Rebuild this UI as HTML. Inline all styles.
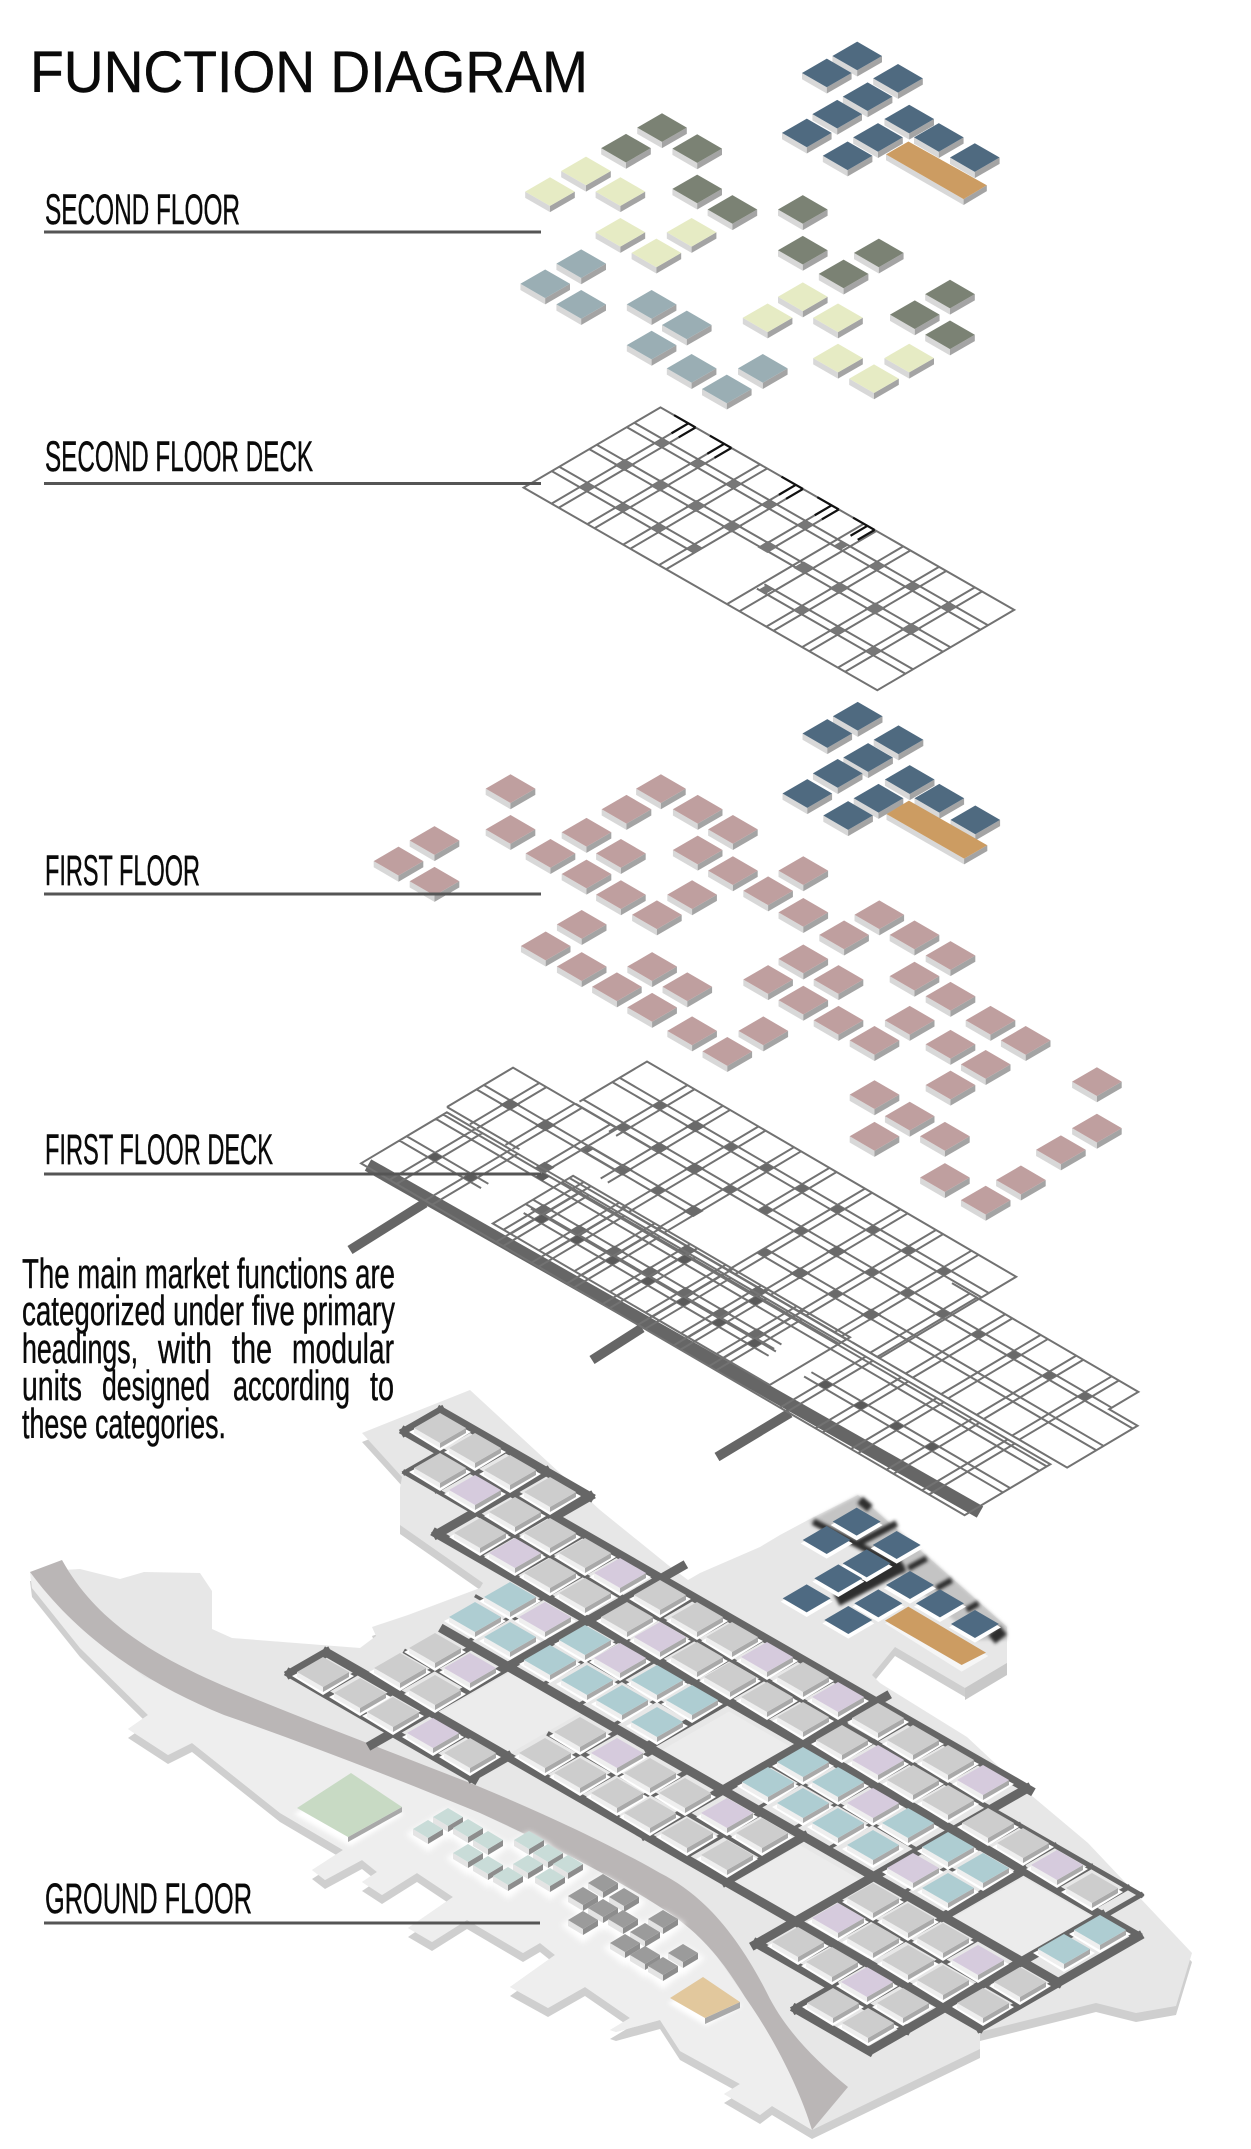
<!DOCTYPE html>
<html><head><meta charset="utf-8"><title>Function Diagram</title>
<style>html,body{margin:0;padding:0;background:#fff}svg{display:block}
text{font-family:"Liberation Sans",sans-serif;fill:#0a0a0a;stroke:#0a0a0a;stroke-width:.45}
.l{stroke:#727272;stroke-width:2;fill:none;vector-effect:non-scaling-stroke}
.b{fill:none;stroke:#666;vector-effect:non-scaling-stroke;stroke-linecap:square}
</style></head><body>
<svg xmlns="http://www.w3.org/2000/svg" width="1251" height="2149" viewBox="0 0 1251 2149">
<defs>
<filter id="bl" x="-40%" y="-40%" width="180%" height="180%"><feGaussianBlur stdDeviation="2.2"/></filter>
<filter id="bh" x="-40%" y="-40%" width="180%" height="180%"><feGaussianBlur stdDeviation="3"/></filter>
<filter id="bz" x="-30%" y="-30%" width="160%" height="160%"><feGaussianBlur stdDeviation="5"/></filter>
<g id="a"><path fill="#d8d8d8" d="M-31 0L0 32V46L-31 14Z"/><path fill="#a4a4a4" d="M31 0L0 32V46L31 14Z"/><path d="M-31 0L0-32L31 0L0 32Z"/></g>
<g id="c"><path fill="#d8d8d8" d="M-31 0L0 30V43L-31 13Z"/><path fill="#a4a4a4" d="M31 0L0 30V43L31 13Z"/><path d="M-31 0L0-30L31 0L0 30Z"/></g>
<g id="t"><path fill="#fff" d="M-31 4L0-12L31 4L0 23Z"/><path fill="#efefef" d="M-26 0L0 15V20L-26 5Z"/><path fill="#a9a9a9" d="M26 0L0 15V20L26 5Z"/><path d="M-26 0L0-15L26 0L0 15Z"/></g>
<g id="m"><path fill="#e4e4e4" d="M-15 0L0 9V15L-15 6Z"/><path fill="#8d8d8d" d="M15 0L0 9V15L15 6Z"/><path d="M-15 0L0-9L15 0L0 9Z"/></g>
<path id="h" d="M-22 5L0-8L22 5L0 23Z"/>
<g id="q"><path fill="#fff" d="M-78 10L0-34L78 10L0 56Z"/><path d="M-72 0L0-42L72 0L0 42Z"/></g>
<path id="n" d="M-.1-.1H.1V.1H-.1Z"/>
<path id="N" d="M-.14-.14H.14V.14H-.14Z"/>
</defs>
<rect width="1251" height="2149" fill="#fff"/>

<text x="30" y="92" font-size="58" textLength="558" lengthAdjust="spacingAndGlyphs">FUNCTION DIAGRAM</text>
<text x="45" y="224" font-size="43" textLength="195" lengthAdjust="spacingAndGlyphs">SECOND FLOOR</text>
<text x="45" y="471" font-size="43" textLength="268" lengthAdjust="spacingAndGlyphs">SECOND FLOOR DECK</text>

<!-- SECOND FLOOR TILES -->
<g transform="translate(-2,0) scale(.8,.4476)">
<g fill="#4f6a80">
<use href="#a" x="1074" y="125"/><use href="#a" x="1036" y="163"/><use href="#a" x="1125" y="175"/><use href="#a" x="1087" y="216"/><use href="#a" x="1049" y="255"/><use href="#a" x="1011" y="297"/><use href="#a" x="1139" y="266"/><use href="#a" x="1100" y="307"/><use href="#a" x="1176" y="307"/><use href="#a" x="1062" y="348"/><use href="#a" x="1221" y="352"/>
</g>
<path fill="#d8d8d8" d="M1110 345L1207 445V458L1110 358Z"/><path fill="#a4a4a4" d="M1236 414L1207 445V458L1236 427Z"/><path fill="#cc9c62" d="M1138 316L1236 414L1207 445L1110 345Z"/>
<g fill="#7b8274">
<use href="#a" x="830" y="285"/><use href="#a" x="785" y="331"/><use href="#a" x="874" y="332"/><use href="#a" x="874" y="422"/><use href="#a" x="918" y="468"/><use href="#a" x="1006" y="468"/><use href="#a" x="1006" y="559"/><use href="#a" x="1101" y="565"/><use href="#a" x="1057" y="612"/><use href="#a" x="1190" y="657"/><use href="#a" x="1146" y="703"/><use href="#a" x="1190" y="748"/>
</g>
<g fill="#e6ebc4">
<use href="#a" x="735" y="382"/><use href="#a" x="690" y="428"/><use href="#a" x="778" y="428"/><use href="#a" x="778" y="519"/><use href="#a" x="867" y="519"/><use href="#a" x="823" y="565"/><use href="#a" x="1006" y="663"/><use href="#a" x="962" y="710"/><use href="#a" x="1050" y="710"/><use href="#a" x="1050" y="800"/><use href="#a" x="1139" y="800"/><use href="#a" x="1095" y="846"/>
</g>
<g fill="#9aaeb4">
<use href="#a" x="729" y="589"/><use href="#a" x="684" y="634"/><use href="#a" x="729" y="680"/><use href="#a" x="817" y="680"/><use href="#a" x="861" y="726"/><use href="#a" x="817" y="771"/><use href="#a" x="867" y="823"/><use href="#a" x="956" y="823"/><use href="#a" x="911" y="869"/>
</g>
</g>

<!-- SECOND FLOOR DECK -->
<g transform="matrix(35.8 20.5 37.5 -22 587 487)">
<path class="l" d="M-.88-.85H9V2.8H-.88ZM-.88-.1H3.1M-.88.1H3.1M4.85-.1H9M4.85.1H9M-.88.9H9M-.88 1.1H9M-.88 1.9H9M-.88 2.1H9M-.1-.85V2.8M.1-.85V2.8M.9-.85V2.8M1.1-.85V2.8M1.9-.85V2.8M2.1-.85V2.8M2.9-.85V2.8M3.1-.85V2.8M3.9.9V2.8M4.1.9V2.8M4.8-.85V2.8M5.15-.85V2.8M5.9-.85V2.8M6.1-.85V2.8M6.9-.85V2.8M7.1-.85V2.8M7.9-.85V2.8M8.1-.85V2.8"/>
<path d="M-.1 2.35V2.8M.1 2.35V2.8M.9 2.35V2.8M1.1 2.35V2.8M2.9 2.35V2.8M3.1 2.35V2.8M3.9 2.35V2.8M4.1 2.35V2.8M4.9 2.35V2.8M5.1 2.35V2.8M-.5 2.8H.1M.5 2.8H1.1M2.5 2.8H3.1M3.5 2.8H4.1M4.5 2.8H5.1" stroke="#111" stroke-width="2.2" fill="none" vector-effect="non-scaling-stroke"/>
<g fill="#777">
<use href="#n" x="0" y="0"/><use href="#N" x="0" y="1"/><use href="#n" x="0" y="2"/><use href="#n" x="1" y="0"/><use href="#N" x="1" y="1"/><use href="#n" x="1" y="2"/><use href="#n" x="2" y="0"/><use href="#N" x="2" y="1"/><use href="#n" x="2" y="2"/><use href="#n" x="3" y="0"/><use href="#N" x="3" y="1"/><use href="#n" x="3" y="2"/><use href="#N" x="4" y="1"/><use href="#n" x="4" y="2"/><use href="#n" x="5" y="0"/><use href="#N" x="5" y="1"/><use href="#n" x="5" y="2"/><use href="#n" x="6" y="0"/><use href="#N" x="6" y="1"/><use href="#n" x="6" y="2"/><use href="#n" x="7" y="0"/><use href="#N" x="7" y="1"/><use href="#n" x="7" y="2"/><use href="#n" x="8" y="0"/><use href="#N" x="8" y="1"/><use href="#n" x="8" y="2"/>
</g>
</g>

<!-- FIRST FLOOR TILES -->
<g transform="translate(-1.5,699) scale(.8,.4795)">
<g fill="#4f6a80">
<use href="#c" x="1074" y="36"/><use href="#c" x="1036" y="72"/><use href="#c" x="1125" y="85"/><use href="#c" x="1087" y="122"/><use href="#c" x="1049" y="155"/><use href="#c" x="1011" y="197"/><use href="#c" x="1139" y="168"/><use href="#c" x="1100" y="207"/><use href="#c" x="1176" y="207"/><use href="#c" x="1062" y="243"/><use href="#c" x="1221" y="252"/>
</g>
<path fill="#d8d8d8" d="M1110 240L1207 333V345L1110 252Z"/><path fill="#a4a4a4" d="M1236 305L1207 333V345L1236 317Z"/><path fill="#cc9c62" d="M1138 212L1236 305L1207 333L1110 240Z"/>
<g fill="#bf9f9f">
<use href="#c" x="640" y="187"/><use href="#c" x="828" y="187"/><use href="#c" x="785" y="230"/><use href="#c" x="874" y="230"/><use href="#c" x="918" y="272"/><use href="#c" x="640" y="272"/><use href="#c" x="735" y="278"/><use href="#c" x="690" y="322"/><use href="#c" x="778" y="322"/><use href="#c" x="874" y="315"/><use href="#c" x="545" y="295"/><use href="#c" x="500" y="338"/><use href="#c" x="735" y="365"/><use href="#c" x="545" y="380"/><use href="#c" x="918" y="358"/><use href="#c" x="1006" y="358"/><use href="#c" x="778" y="408"/><use href="#c" x="867" y="408"/><use href="#c" x="962" y="400"/><use href="#c" x="823" y="450"/><use href="#c" x="1006" y="445"/><use href="#c" x="1101" y="450"/><use href="#c" x="729" y="470"/><use href="#c" x="1057" y="492"/><use href="#c" x="1145" y="492"/><use href="#c" x="684" y="515"/><use href="#c" x="1190" y="535"/><use href="#c" x="1006" y="542"/><use href="#c" x="729" y="558"/><use href="#c" x="817" y="558"/><use href="#c" x="962" y="585"/><use href="#c" x="1050" y="585"/><use href="#c" x="1145" y="578"/><use href="#c" x="773" y="600"/><use href="#c" x="861" y="600"/><use href="#c" x="1006" y="628"/><use href="#c" x="1190" y="620"/><use href="#c" x="817" y="643"/><use href="#c" x="1050" y="670"/><use href="#c" x="1139" y="670"/><use href="#c" x="1240" y="670"/><use href="#c" x="867" y="692"/><use href="#c" x="956" y="692"/><use href="#c" x="1095" y="712"/><use href="#c" x="1190" y="720"/><use href="#c" x="1284" y="712"/><use href="#c" x="911" y="735"/><use href="#c" x="1234" y="762"/><use href="#c" x="1190" y="805"/><use href="#c" x="1373" y="798"/><use href="#c" x="1095" y="825"/><use href="#c" x="1139" y="870"/><use href="#c" x="1095" y="912"/><use href="#c" x="1183" y="912"/><use href="#c" x="1373" y="895"/><use href="#c" x="1328" y="940"/><use href="#c" x="1183" y="998"/><use href="#c" x="1278" y="1003"/><use href="#c" x="1234" y="1045"/>
</g>
</g>

<!-- FIRST FLOOR DECK -->
<g stroke="#666" fill="none">
<path d="M368 1165L980 1512" stroke-width="13"/>
<path d="M425 1203L350 1250M642 1328L592 1360M790 1413L717 1457" stroke-width="9.5"/>
</g>
<g transform="matrix(35.5 20.7 36.5 -21.7 587 1149)">
<path class="l" d="M-1.24 1V2.85H9.16V-.9H1.9M-1.24.9H9.16M-1.24 1.1H9.16M-1.24 1.9H9.16M-1.24 2.1H9.16M0-.1H3.1M0 .1H3.1M4.9-.1H9.16M4.9.1H9.16M-.1.7V2.85M.1.7V2.85M.9-.5V2.85M1.1-.5V2.85M1.9-.9V2.85M2.1-.9V2.85M2.9-.9V2.85M3.1-.9V2.85M3.9.9V2.85M4.1.9V2.85M4.9-.9V2.85M5.1-.9V2.85M5.9-.9V2.85M6.1-.9V2.85M6.9-.9V2.85M7.1-.9V2.85M7.9-.9V2.85M8.1-.9V2.85"/>
<path class="l" d="M8.4 1.83H13.65V1.03H14.45V-.9H8.4M8.4.9H14.45M8.4 1.1H13.65M9-.1H14.45M9 .1H14.45M8.9-.9V1.83M9.1-.9V1.83M9.9-.9V1.83M10.1-.9V1.83M10.9-.9V1.83M11.1-.9V1.83M11.9-.9V1.83M12.1-.9V1.83M12.9-.9V1.83M13.1-.9V1.83"/>
<g fill="#6a6a6a">
<use href="#n" x="0" y="0"/><use href="#n" x="0" y="1"/><use href="#n" x="0" y="2"/><use href="#N" x="1" y="0"/><use href="#N" x="1" y="1"/><use href="#N" x="1" y="2"/><use href="#n" x="2" y="0"/><use href="#N" x="2" y="1"/><use href="#n" x="2" y="2"/><use href="#N" x="3" y="0"/><use href="#n" x="3" y="1"/><use href="#n" x="3" y="2"/><use href="#n" x="4" y="1"/><use href="#n" x="4" y="2"/><use href="#n" x="5" y="0"/><use href="#n" x="5" y="1"/><use href="#n" x="5" y="2"/><use href="#N" x="6" y="0"/><use href="#N" x="6" y="1"/><use href="#n" x="6" y="2"/><use href="#n" x="7" y="0"/><use href="#n" x="7" y="1"/><use href="#n" x="7" y="2"/><use href="#N" x="8" y="0"/><use href="#n" x="8" y="1"/><use href="#n" x="8" y="2"/><use href="#n" x="9" y="1"/><use href="#n" x="10" y="1"/><use href="#n" x="11" y="1"/><use href="#n" x="12" y="1"/><use href="#n" x="13" y="1"/>
</g>
</g>
<g transform="matrix(35.5 20.7 36.5 -21.7 437 1148)">
<path class="l" d="M-.84 1.09V2.9H3.2M-.84 1.9H3.2M-.84 2.1H3.2M-.84 1.09H1.2M-.1 1V2.9M.1 1V2.9M.9 1V2.9M1.1 1V2.9M1.9 1V2.9M2.1 1V2.9"/>
<path class="l" d="M2.6-1H10.4V1.2H2.6ZM2.6-.1H9.6M2.6.1H9.6M2.6.9H10.4M2.6 1.1H10.4M2.9-1V1.2M3.1-1V1.2M3.9-1V1.2M4.1-1V1.2M4.9-1V1.2M5.1-1V1.2M5.9-1V1.2M6.1-1V1.2M6.9-1V1.2M7.1-1V1.2M7.9-1V1.2M8.1-1V1.2M8.9-1V1.2M9.1-1V1.2"/>
<g fill="#6a6a6a">
<use href="#N" x="0" y="2"/><use href="#N" x="1" y="2"/><use href="#N" x="2" y="1"/><use href="#N" x="3" y="0"/><use href="#N" x="4" y="0"/><use href="#N" x="5" y="0"/><use href="#N" x="6" y="0"/><use href="#N" x="6" y="1"/><use href="#N" x="7" y="0"/><use href="#N" x="8" y="0"/><use href="#N" x="8" y="1"/><use href="#N" x="9" y="0"/>
</g>
</g>
<g transform="matrix(35.5 20.7 36.5 -21.7 435 1157)">
<path class="l" d="M-.9-1.15H16.1V1.2H-.9ZM-.9-.1H1.4M-.9.1H1.4M2.6-.1H9.5M2.6.1H9.5M10.5-.1H16.1M10.5.1H16.1M-.9.9H16.1M-.9 1.1H16.1M-.1-1.15V1.2M.1-1.15V1.2M.9-1.15V1.2M1.1-1.15V1.2M2.9-1.15V1.2M3.1-1.15V1.2M3.9-1.15V1.2M4.1-1.15V1.2M4.9-1.15V1.2M5.1-1.15V1.2M5.9-1.15V1.2M6.1-1.15V1.2M6.9-1.15V1.2M7.1-1.15V1.2M7.9-1.15V1.2M8.1-1.15V1.2M8.9-1.15V1.2M9.1-1.15V1.2M10.9-1.15V1.2M11.1-1.15V1.2M11.9-1.15V1.2M12.1-1.15V1.2M12.9-1.15V1.2M13.1-1.15V1.2M13.9-1.15V1.2M14.1-1.15V1.2M14.9-1.15V1.2M15.1-1.15V1.2"/>
<g fill="#5a5a5a">
<use href="#n" x="0" y="0"/><use href="#n" x="1" y="0"/><use href="#n" x="2" y="1"/><use href="#n" x="3" y="0"/><use href="#n" x="4" y="0"/><use href="#n" x="5" y="0"/><use href="#n" x="6" y="0"/><use href="#n" x="6" y="1"/><use href="#n" x="7" y="0"/><use href="#n" x="8" y="0"/><use href="#n" x="8" y="1"/><use href="#n" x="9" y="0"/><use href="#n" x="11" y="0"/><use href="#n" x="12" y="0"/><use href="#n" x="13" y="0"/><use href="#n" x="14" y="0"/>
</g>
</g>

<text x="45" y="885" font-size="43" textLength="155" lengthAdjust="spacingAndGlyphs">FIRST FLOOR</text>
<text x="45" y="1164" font-size="43" textLength="228" lengthAdjust="spacingAndGlyphs">FIRST FLOOR DECK</text>

<!-- PARAGRAPH -->
<text x="22" y="1288" font-size="42" textLength="373" lengthAdjust="spacingAndGlyphs">The main market functions are</text>
<text x="22" y="1325" font-size="42" textLength="373" lengthAdjust="spacingAndGlyphs">categorized under five primary</text>
<text x="22" y="1363" font-size="42" textLength="116" lengthAdjust="spacingAndGlyphs">headings,</text>
<text x="158" y="1363" font-size="42" textLength="54" lengthAdjust="spacingAndGlyphs">with</text>
<text x="232" y="1363" font-size="42" textLength="40" lengthAdjust="spacingAndGlyphs">the</text>
<text x="292" y="1363" font-size="42" textLength="102" lengthAdjust="spacingAndGlyphs">modular</text>
<text x="22" y="1400" font-size="42" textLength="60" lengthAdjust="spacingAndGlyphs">units</text>
<text x="102" y="1400" font-size="42" textLength="108" lengthAdjust="spacingAndGlyphs">designed</text>
<text x="233" y="1400" font-size="42" textLength="117" lengthAdjust="spacingAndGlyphs">according</text>
<text x="370" y="1400" font-size="42" textLength="24" lengthAdjust="spacingAndGlyphs">to</text>
<text x="22" y="1438" font-size="42" textLength="204" lengthAdjust="spacingAndGlyphs">these categories.</text>

<!-- GROUND BASE -->
<path transform="translate(0,9)" fill="#cfcfcf" d="M362 1433L470 1390L600 1510L668 1565L688 1580L700 1573L760 1547L780 1535L808 1520L858 1495L1007 1627V1663L965 1688L895 1647L872 1675L880 1683L967 1737L1013 1780L1088 1843L1192 1953L1176 2006L1136 2013L1096 2003L980 2032V2049L812 2130L772 2106L760 2115L724 2094L740 2084L680 2051L660 2020L616 2032L610 2030L630 2018L585 1987L548 2008L510 1987L555 1955L540 1943L523 1953L467 1920L432 1942L408 1928L453 1897L417 1873L382 1895L362 1882L377 1872L362 1860L325 1880L312 1870L343 1850L280 1813L192 1743L168 1755L128 1729L148 1715L80 1648L32 1588L30 1572L80 1569L120 1579L144 1572L200 1573L212 1591V1629L232 1638L360 1648L376 1636L372 1627L408 1615L480 1588L483 1583L400 1525V1488L402 1477Z"/>
<path fill="#e7e7e7" d="M362 1433L470 1390L600 1510L668 1565L688 1580L700 1573L760 1547L780 1535L808 1520L858 1495L1007 1627V1663L965 1688L895 1647L872 1675L880 1683L967 1737L1013 1780L1088 1843L1192 1953L1176 2006L1136 2013L1096 2003L980 2032V2049L812 2130L772 2106L760 2115L724 2094L740 2084L680 2051L660 2020L616 2032L610 2030L630 2018L585 1987L548 2008L510 1987L555 1955L540 1943L523 1953L467 1920L432 1942L408 1928L453 1897L417 1873L382 1895L362 1882L377 1872L362 1860L325 1880L312 1870L343 1850L280 1813L192 1743L168 1755L128 1729L148 1715L80 1648L32 1588L30 1572L80 1569L120 1579L144 1572L200 1573L212 1591V1629L232 1638L360 1648L376 1636L372 1627L408 1615L480 1588L483 1583L400 1525V1488L402 1477Z"/>
<path fill="#c8c8c8" d="M1007 1663V1675L965 1700V1688Z"/>
<path fill="#eeeeee" d="M32 1588L80 1648L148 1715L128 1729L168 1755L192 1743L280 1813L343 1850L312 1870L325 1880L362 1860L377 1872L362 1882L382 1895L417 1873L453 1897L408 1928L432 1942L467 1920L523 1953L540 1943L555 1955L510 1987L548 2008L585 1987L630 2018L610 2030L616 2032L660 2020L680 2051L740 2084L724 2094L760 2115L772 2106L812 2130L790 2060L747 2000L717 1957L687 1923L660 1900L480 1813L280 1732L144 1677L72 1620L30 1572Z"/>
<!-- road -->
<path fill="#bab6b6" d="M30 1572L62 1560C98 1625 160 1658 224 1686C310 1722 400 1755 480 1787C550 1816 615 1847 660 1873C700 1893 735 1930 767 1993C785 2030 815 2060 848 2087L812 2130C800 2090 775 2040 747 2000C725 1965 705 1935 660 1907C610 1875 550 1845 480 1813C400 1780 310 1745 224 1715C150 1685 80 1640 30 1572Z"/>

<!-- ground bars & open blocks -->
<g transform="matrix(.871 .5 -.871 .5 0 0)">
<path fill="#ececec" d="M1965 1380H2046V1462H1965ZM2130 1293H2200V1371H2130ZM2304 1386H2377V1460H2304ZM2465 1290H2545V1372H2465Z"/>
<path class="b" stroke-width="9" d="M1664 1158H1835M1664 1199H2381M1784 1283H2588M1885 1375H2590M1840 1465H2590M1840 1507H2051M1664 1158V1199M1785 1158V1283M1835 1158V1199M1958 1175V1531M2205 1188V1465M2378 1199V1511M2458 1283V1375M2548 1283V1465M2550 1465V1550M2590 1283V1465M2118 1283V1375M2298 1375V1465M2048 1465V1507M2466 1507V1552M2378 1509H2550M2466 1552H2550M1840 1465V1507"/>
<path class="b" stroke-width="5" d="M1705 1240H2550M1700 1158V1199M1741 1158V1240M1705 1199V1240M1830 1199V1283M1870 1199V1283M1909 1199V1283M1996 1199V1283M2037 1199V1283M2077 1199V1283M2117 1199V1283M2158 1199V1283M2243 1199V1283M2284 1199V1283M2324 1199V1283M2410 1240V1283M2451 1240V1283M2493 1240V1283M2535 1240V1283M2550 1240V1283M1885 1419H1958M2050 1419H2298M2378 1419H2590M2086 1375V1465M2126 1375V1465M2166 1375V1465M2250 1375V1465M2419 1375V1465M2459 1375V1465M2500 1375V1465M2420 1465V1509M2460 1465V1509M2500 1465V1552M1878 1465V1507M1918 1465V1507M2002 1465V1507M1918 1375V1465"/>
<path class="b" stroke-width="3.5" d="M1870 1323H2115M2210 1323H2450M1910 1283V1375M1996 1283V1375M2037 1283V1375M2077 1283V1375M2243 1283V1375M2284 1283V1375M2324 1283V1375M2411 1283V1375"/>
</g>

<!-- ground tiles -->
<g fill="#cdcdcd">
<use href="#t" x="440" y="1428"/><use href="#t" x="475" y="1448"/><use href="#t" x="440" y="1468"/><use href="#t" x="510" y="1470"/><use href="#t" x="550" y="1492"/><use href="#t" x="515" y="1512"/><use href="#t" x="480" y="1533"/><use href="#t" x="550" y="1533"/><use href="#t" x="585" y="1553"/><use href="#t" x="550" y="1573"/><use href="#t" x="585" y="1593"/><use href="#t" x="660" y="1595"/><use href="#t" x="627" y="1617"/><use href="#t" x="697" y="1617"/><use href="#t" x="732" y="1637"/><use href="#t" x="435" y="1648"/><use href="#t" x="400" y="1668"/><use href="#t" x="697" y="1657"/><use href="#t" x="730" y="1677"/><use href="#t" x="435" y="1690"/><use href="#t" x="360" y="1693"/><use href="#t" x="393" y="1712"/><use href="#t" x="323" y="1672"/><use href="#t" x="470" y="1753"/><use href="#t" x="580" y="1732"/><use href="#t" x="545" y="1753"/><use href="#t" x="580" y="1773"/><use href="#t" x="650" y="1773"/><use href="#t" x="685" y="1793"/><use href="#t" x="617" y="1793"/><use href="#t" x="650" y="1813"/>
<use href="#t" x="803" y="1677"/><use href="#t" x="767" y="1697"/><use href="#t" x="803" y="1717"/><use href="#t" x="878" y="1718"/><use href="#t" x="842" y="1740"/><use href="#t" x="913" y="1740"/><use href="#t" x="948" y="1760"/><use href="#t" x="913" y="1780"/><use href="#t" x="948" y="1800"/><use href="#t" x="988" y="1823"/><use href="#t" x="1023" y="1843"/><use href="#t" x="1092" y="1888"/><use href="#t" x="687" y="1833"/><use href="#t" x="762" y="1833"/><use href="#t" x="727" y="1855"/><use href="#t" x="873" y="1898"/><use href="#t" x="908" y="1918"/><use href="#t" x="873" y="1938"/><use href="#t" x="943" y="1938"/><use href="#t" x="798" y="1942"/><use href="#t" x="908" y="1960"/><use href="#t" x="832" y="1962"/><use href="#t" x="943" y="1980"/><use href="#t" x="1020" y="1982"/><use href="#t" x="833" y="2003"/><use href="#t" x="903" y="2003"/><use href="#t" x="983" y="2003"/><use href="#t" x="868" y="2023"/>
</g>
<g fill="#d6cbdd">
<use href="#t" x="475" y="1490"/><use href="#t" x="515" y="1553"/><use href="#t" x="620" y="1573"/><use href="#t" x="545" y="1617"/><use href="#t" x="660" y="1637"/><use href="#t" x="470" y="1668"/><use href="#t" x="620" y="1658"/><use href="#t" x="767" y="1657"/><use href="#t" x="433" y="1733"/><use href="#t" x="617" y="1753"/><use href="#t" x="838" y="1697"/><use href="#t" x="878" y="1760"/><use href="#t" x="983" y="1780"/><use href="#t" x="1057" y="1865"/><use href="#t" x="873" y="1803"/><use href="#t" x="913" y="1868"/><use href="#t" x="727" y="1813"/><use href="#t" x="838" y="1918"/><use href="#t" x="978" y="1960"/><use href="#t" x="867" y="1982"/>
</g>
<g fill="#aecdd2">
<use href="#t" x="510" y="1597"/><use href="#t" x="475" y="1617"/><use href="#t" x="510" y="1637"/><use href="#t" x="585" y="1640"/><use href="#t" x="550" y="1660"/><use href="#t" x="587" y="1680"/><use href="#t" x="657" y="1680"/><use href="#t" x="622" y="1700"/><use href="#t" x="692" y="1700"/><use href="#t" x="657" y="1722"/><use href="#t" x="803" y="1762"/><use href="#t" x="838" y="1782"/><use href="#t" x="768" y="1782"/><use href="#t" x="803" y="1803"/><use href="#t" x="908" y="1823"/><use href="#t" x="838" y="1823"/><use href="#t" x="873" y="1845"/><use href="#t" x="948" y="1847"/><use href="#t" x="983" y="1868"/><use href="#t" x="948" y="1888"/><use href="#t" x="1100" y="1930"/><use href="#t" x="1064" y="1949"/>
</g>

<!-- plaza green & small tiles -->
<path fill="#fff" filter="url(#bl)" d="M294 1814L351 1782L404 1814L350 1846Z"/>
<path fill="#a9a9a9" d="M402 1807L348 1837V1842L402 1812Z"/><path fill="#c8dac4" d="M351 1773L402 1807L348 1837L297 1808Z"/>
<g fill="#fff" filter="url(#bh)">
<use href="#h" x="448" y="1817"/><use href="#h" x="428" y="1829"/><use href="#h" x="468" y="1828"/><use href="#h" x="488" y="1840"/><use href="#h" x="529" y="1840"/><use href="#h" x="468" y="1853"/><use href="#h" x="548" y="1853"/><use href="#h" x="488" y="1865"/><use href="#h" x="528" y="1864"/><use href="#h" x="568" y="1864"/><use href="#h" x="508" y="1876"/><use href="#h" x="550" y="1877"/>
<use href="#h" x="603" y="1883"/><use href="#h" x="583" y="1896"/><use href="#h" x="624" y="1897"/><use href="#h" x="603" y="1908"/><use href="#h" x="583" y="1920"/><use href="#h" x="623" y="1919"/><use href="#h" x="645" y="1932"/><use href="#h" x="663" y="1919"/><use href="#h" x="625" y="1943"/><use href="#h" x="645" y="1955"/><use href="#h" x="663" y="1966"/><use href="#h" x="683" y="1953"/>
</g>
<g fill="#c9dcd8">
<use href="#m" x="448" y="1817"/><use href="#m" x="428" y="1829"/><use href="#m" x="468" y="1828"/><use href="#m" x="488" y="1840"/><use href="#m" x="529" y="1840"/><use href="#m" x="468" y="1853"/><use href="#m" x="548" y="1853"/><use href="#m" x="488" y="1865"/><use href="#m" x="528" y="1864"/><use href="#m" x="568" y="1864"/><use href="#m" x="508" y="1876"/><use href="#m" x="550" y="1877"/>
</g>
<g fill="#9b9b9b">
<use href="#m" x="603" y="1883"/><use href="#m" x="583" y="1896"/><use href="#m" x="624" y="1897"/><use href="#m" x="603" y="1908"/><use href="#m" x="583" y="1920"/><use href="#m" x="623" y="1919"/><use href="#m" x="645" y="1932"/><use href="#m" x="663" y="1919"/><use href="#m" x="625" y="1943"/><use href="#m" x="645" y="1955"/><use href="#m" x="663" y="1966"/><use href="#m" x="683" y="1953"/>
</g>
<path fill="#fff" filter="url(#bl)" d="M668 2003L704 1984L742 2006L706 2026Z"/>
<path fill="#a9a9a9" d="M740 2002L705 2018V2024L740 2008Z"/><path fill="#e2c89d" d="M703 1977L740 2002L705 2018L670 1998Z"/>

<!-- ground blue plaza -->
<g transform="translate(780,1480) scale(.3333)">
<path fill="#c4c4c4" filter="url(#bz)" d="M235 45L680 440V480L590 480L300 230L85 125Z"/>
<g fill="none" stroke="#2e2e2e" filter="url(#bz)">
<path stroke-width="20" d="M100 125L370 265"/><path stroke-width="40" d="M170 360L370 255"/><path stroke-width="20" d="M225 195L350 130"/><path stroke-width="26" d="M240 60L270 85"/><path stroke-width="18" d="M440 235L385 265"/><path stroke-width="18" d="M515 300L470 325"/><path stroke-width="18" d="M595 370L560 390"/><path stroke-width="34" d="M670 450L635 478"/>
</g>
<g fill="#4e6a82">
<use href="#q" x="230" y="125"/><use href="#q" x="140" y="180"/><use href="#q" x="350" y="195"/><use href="#q" x="260" y="250"/><use href="#q" x="175" y="295"/><use href="#q" x="80" y="355"/><use href="#q" x="390" y="315"/><use href="#q" x="295" y="370"/><use href="#q" x="480" y="370"/><use href="#q" x="205" y="420"/><use href="#q" x="585" y="432"/>
</g>
<path fill="#f6f6f6" d="M315 430L545 575L625 528L385 388Z"/>
<path fill="#cc9c62" d="M385 380L618 518L545 555L315 422Z"/>
</g>

<!-- leader lines -->
<g fill="#555">
<rect x="44" y="230.5" width="497" height="3"/>
<rect x="44" y="482" width="497" height="3"/>
<rect x="44" y="892.5" width="497" height="3"/>
<rect x="44" y="1172.5" width="497" height="3"/>
<rect x="44" y="1921.5" width="496" height="3"/>
</g>
<text x="45" y="1913" font-size="43" textLength="207" lengthAdjust="spacingAndGlyphs">GROUND FLOOR</text>
</svg>
</body></html>
